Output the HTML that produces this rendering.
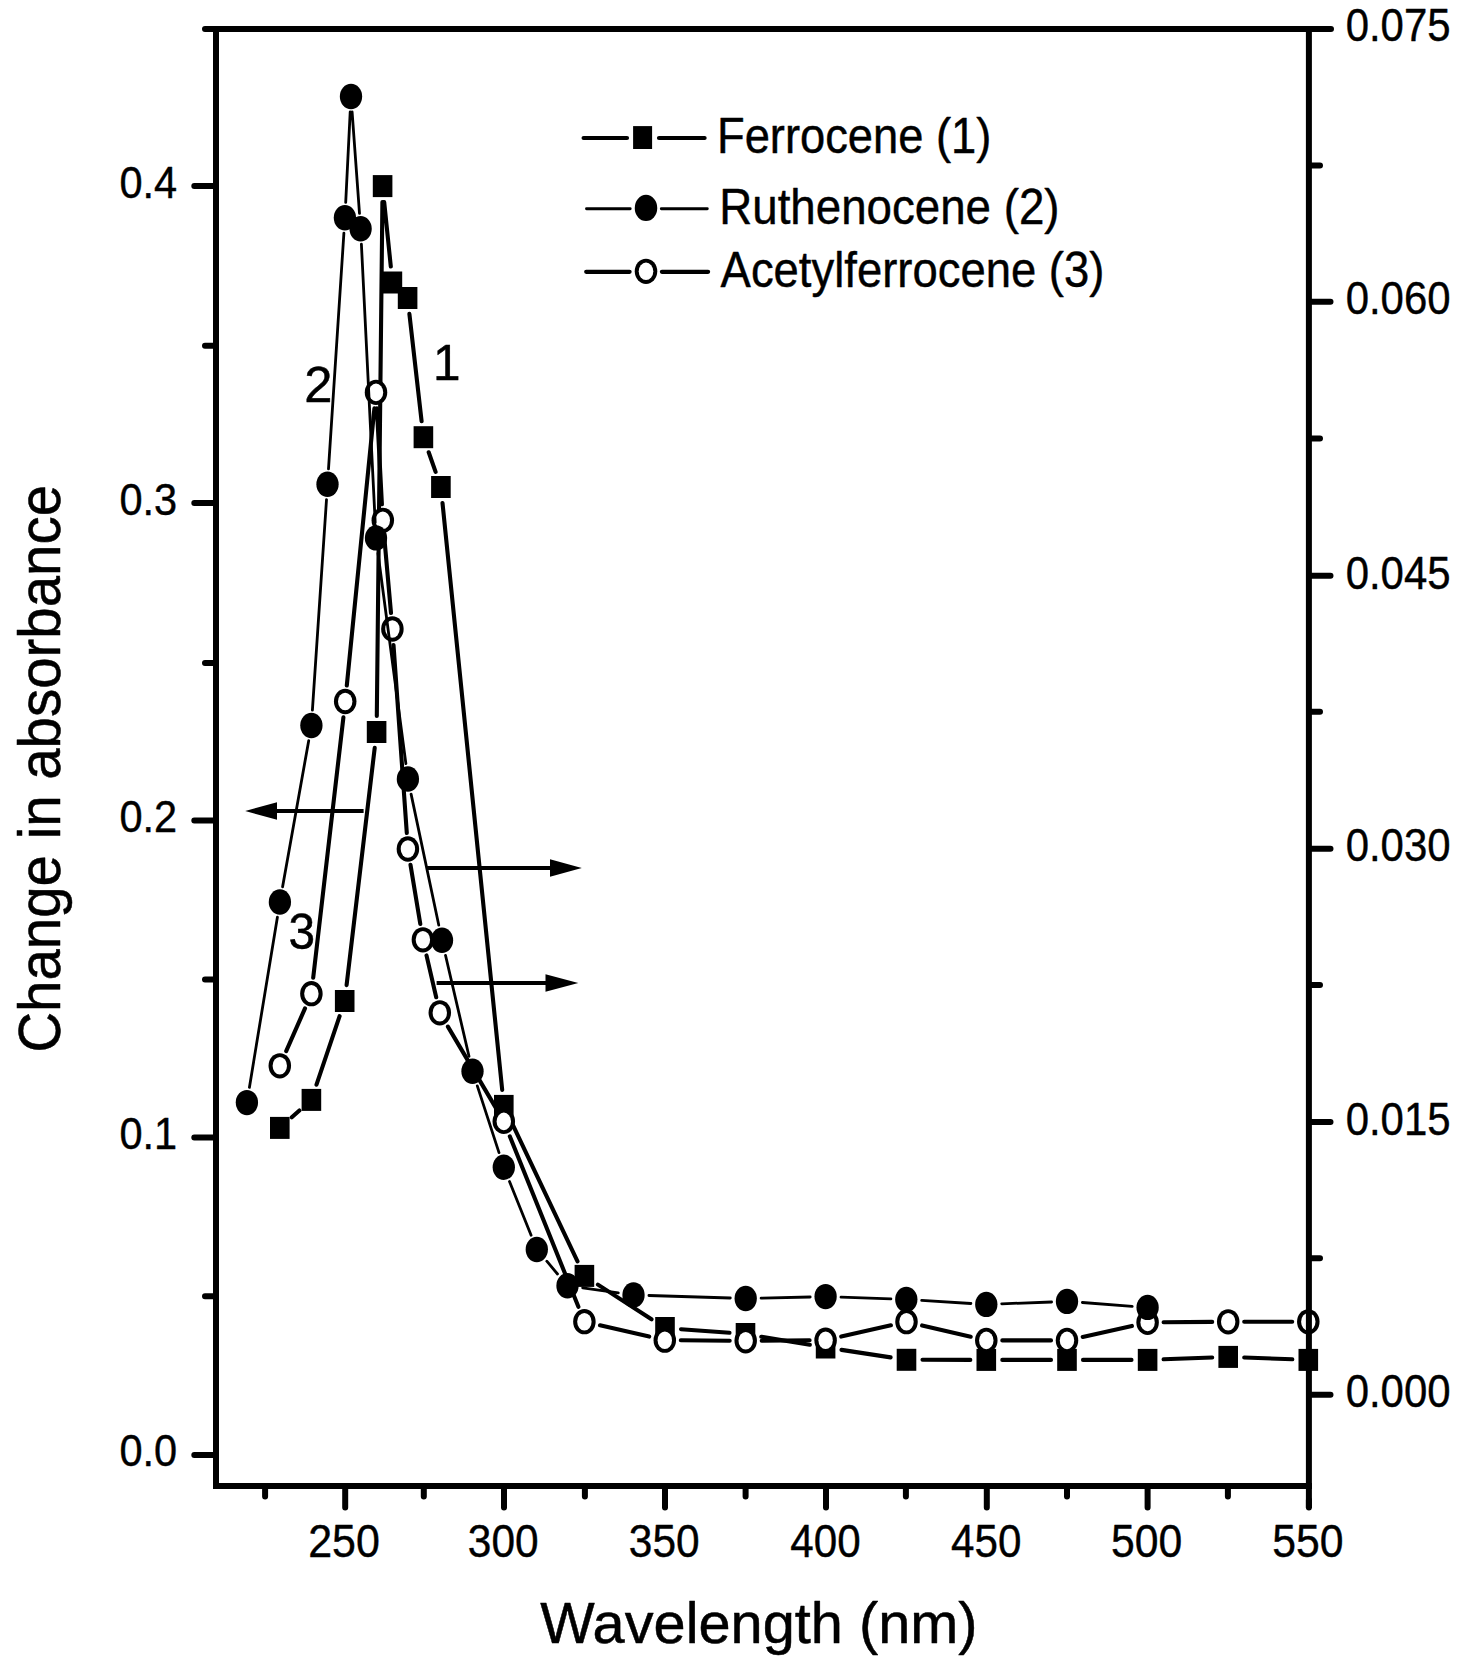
<!DOCTYPE html>
<html lang="en"><head><meta charset="utf-8"><title>Change in absorbance vs wavelength</title><style>html,body{margin:0;padding:0;background:#fff}svg{display:block}</style></head><body>
<svg width="1468" height="1672" viewBox="0 0 1468 1672">
<rect width="1468" height="1672" fill="#fff"/>
<g fill="none" stroke="#000" stroke-linecap="round">
<path stroke-width="4.1" d="M291.8 1117.3L299.4 1110.5M316.5 1084.7L339.6 1016.2M346.6 985.1L374.7 747.9M376.8 716.0L382.4 202.1M384.2 202.1L390.8 266.5M409.4 313.9L421.6 421.3M428.7 452.3L435.6 471.9M442.5 503.0L502.2 1089.9M510.7 1120.4L577.5 1261.4M597.9 1284.6L651.5 1319.3M681.0 1329.2L729.5 1332.8M761.3 1336.7L809.8 1344.8M841.5 1349.9L890.6 1357.4M922.5 1359.8L970.3 1359.9M1002.3 1359.9L1051.0 1359.9M1083.0 1359.9L1131.5 1359.9M1163.6 1359.3L1212.2 1357.5M1244.2 1357.5L1292.3 1359.3"/>
</g>
<g fill="#000">
<rect x="270.0" y="1116.9" width="19.6" height="22"/>
<rect x="301.6" y="1088.9" width="19.6" height="22"/>
<rect x="334.9" y="990.0" width="19.6" height="22"/>
<rect x="366.8" y="721.0" width="19.6" height="22"/>
<rect x="372.8" y="175.1" width="19.6" height="22"/>
<rect x="382.6" y="271.5" width="19.6" height="22"/>
<rect x="397.8" y="287.0" width="19.6" height="22"/>
<rect x="413.6" y="426.2" width="19.6" height="22"/>
<rect x="431.1" y="476.0" width="19.6" height="22"/>
<rect x="494.0" y="1094.9" width="19.6" height="22"/>
<rect x="574.6" y="1264.9" width="19.6" height="22"/>
<rect x="655.2" y="1317.0" width="19.6" height="22"/>
<rect x="735.7" y="1323.0" width="19.6" height="22"/>
<rect x="815.8" y="1336.5" width="19.6" height="22"/>
<rect x="896.7" y="1348.8" width="19.6" height="22"/>
<rect x="976.5" y="1348.9" width="19.6" height="22"/>
<rect x="1057.2" y="1348.9" width="19.6" height="22"/>
<rect x="1137.8" y="1348.9" width="19.6" height="22"/>
<rect x="1218.4" y="1345.9" width="19.6" height="22"/>
<rect x="1298.5" y="1348.9" width="19.6" height="22"/>
</g>
<path fill="none" stroke="#000" stroke-linecap="round" stroke-width="4.1" d="M286.2 1051.1L305.0 1008.4M313.2 977.8L343.4 717.4M346.8 685.5L374.4 408.4M376.9 408.4L381.9 504.3M384.2 536.3L391.0 613.0M393.5 645.0L406.8 833.0M410.5 864.8L420.3 924.0M426.5 955.4L436.2 997.2M447.9 1026.6L495.7 1107.6M509.8 1136.3L578.4 1306.8M600.0 1325.3L649.2 1336.6M680.8 1340.3L729.7 1340.7M761.7 1340.7L809.6 1340.3M841.2 1336.6L890.9 1325.3M922.1 1325.4L970.7 1336.7M1002.3 1340.4L1051.0 1340.4M1082.7 1336.9L1131.9 1325.9M1163.6 1322.3L1212.2 1321.9M1244.2 1321.8L1292.2 1321.8"/>
<g>
<ellipse cx="279.8" cy="1065.8" rx="11.25" ry="12.65" fill="#000"/><ellipse cx="279.8" cy="1065.8" rx="7.2" ry="8.8" fill="#fff"/>
<ellipse cx="311.4" cy="993.7" rx="11.25" ry="12.65" fill="#000"/><ellipse cx="311.4" cy="993.7" rx="7.2" ry="8.8" fill="#fff"/>
<ellipse cx="345.2" cy="701.5" rx="11.25" ry="12.65" fill="#000"/><ellipse cx="345.2" cy="701.5" rx="7.2" ry="8.8" fill="#fff"/>
<ellipse cx="376.0" cy="392.4" rx="11.25" ry="12.65" fill="#000"/><ellipse cx="376.0" cy="392.4" rx="7.2" ry="8.8" fill="#fff"/>
<ellipse cx="382.8" cy="520.3" rx="11.25" ry="12.65" fill="#000"/><ellipse cx="382.8" cy="520.3" rx="7.2" ry="8.8" fill="#fff"/>
<ellipse cx="392.4" cy="629.0" rx="11.25" ry="12.65" fill="#000"/><ellipse cx="392.4" cy="629.0" rx="7.2" ry="8.8" fill="#fff"/>
<ellipse cx="407.9" cy="849.0" rx="11.25" ry="12.65" fill="#000"/><ellipse cx="407.9" cy="849.0" rx="7.2" ry="8.8" fill="#fff"/>
<ellipse cx="422.9" cy="939.8" rx="11.25" ry="12.65" fill="#000"/><ellipse cx="422.9" cy="939.8" rx="7.2" ry="8.8" fill="#fff"/>
<ellipse cx="439.8" cy="1012.8" rx="11.25" ry="12.65" fill="#000"/><ellipse cx="439.8" cy="1012.8" rx="7.2" ry="8.8" fill="#fff"/>
<ellipse cx="503.8" cy="1121.4" rx="11.25" ry="12.65" fill="#000"/><ellipse cx="503.8" cy="1121.4" rx="7.2" ry="8.8" fill="#fff"/>
<ellipse cx="584.4" cy="1321.7" rx="11.25" ry="12.65" fill="#000"/><ellipse cx="584.4" cy="1321.7" rx="7.2" ry="8.8" fill="#fff"/>
<ellipse cx="664.8" cy="1340.2" rx="11.25" ry="12.65" fill="#000"/><ellipse cx="664.8" cy="1340.2" rx="7.2" ry="8.8" fill="#fff"/>
<ellipse cx="745.7" cy="1340.8" rx="11.25" ry="12.65" fill="#000"/><ellipse cx="745.7" cy="1340.8" rx="7.2" ry="8.8" fill="#fff"/>
<ellipse cx="825.6" cy="1340.2" rx="11.25" ry="12.65" fill="#000"/><ellipse cx="825.6" cy="1340.2" rx="7.2" ry="8.8" fill="#fff"/>
<ellipse cx="906.5" cy="1321.7" rx="11.25" ry="12.65" fill="#000"/><ellipse cx="906.5" cy="1321.7" rx="7.2" ry="8.8" fill="#fff"/>
<ellipse cx="986.3" cy="1340.4" rx="11.25" ry="12.65" fill="#000"/><ellipse cx="986.3" cy="1340.4" rx="7.2" ry="8.8" fill="#fff"/>
<ellipse cx="1067.0" cy="1340.4" rx="11.25" ry="12.65" fill="#000"/><ellipse cx="1067.0" cy="1340.4" rx="7.2" ry="8.8" fill="#fff"/>
<ellipse cx="1147.6" cy="1322.4" rx="11.25" ry="12.65" fill="#000"/><ellipse cx="1147.6" cy="1322.4" rx="7.2" ry="8.8" fill="#fff"/>
<ellipse cx="1228.2" cy="1321.8" rx="11.25" ry="12.65" fill="#000"/><ellipse cx="1228.2" cy="1321.8" rx="7.2" ry="8.8" fill="#fff"/>
<ellipse cx="1308.3" cy="1321.8" rx="11.25" ry="12.65" fill="#000"/><ellipse cx="1308.3" cy="1321.8" rx="7.2" ry="8.8" fill="#fff"/>
</g>
<path fill="none" stroke="#000" stroke-linecap="round" stroke-width="2.8" d="M249.4 1087.4L277.4 917.2M282.6 886.8L308.7 740.7M312.4 710.1L326.5 499.7M328.5 468.9L343.9 233.2M345.7 202.4L350.2 111.9M352.1 111.9L359.5 213.4M361.4 244.2L375.2 522.5M378.0 553.2L405.9 763.7M411.1 794.1L438.8 925.2M445.5 955.3L469.0 1056.3M477.3 1085.9L499.0 1152.6M509.5 1181.5L531.1 1235.2M546.8 1261.2L557.5 1274.0M582.7 1287.8L618.3 1292.9M648.9 1295.5L730.3 1298.0M761.1 1298.1L810.2 1297.0M841.0 1297.2L890.9 1298.9M921.7 1300.4L970.9 1303.5M1001.7 1303.8L1051.6 1302.0M1082.4 1302.5L1132.2 1306.3"/>
<g fill="#000">
<ellipse cx="246.9" cy="1102.6" rx="11.15" ry="12.7"/>
<ellipse cx="279.9" cy="902.0" rx="11.15" ry="12.7"/>
<ellipse cx="311.4" cy="725.5" rx="11.15" ry="12.7"/>
<ellipse cx="327.5" cy="484.3" rx="11.15" ry="12.7"/>
<ellipse cx="344.9" cy="217.8" rx="11.15" ry="12.7"/>
<ellipse cx="351.0" cy="96.5" rx="11.15" ry="12.7"/>
<ellipse cx="360.6" cy="228.8" rx="11.15" ry="12.7"/>
<ellipse cx="376.0" cy="537.9" rx="11.15" ry="12.7"/>
<ellipse cx="407.9" cy="779.0" rx="11.15" ry="12.7"/>
<ellipse cx="442.0" cy="940.3" rx="11.15" ry="12.7"/>
<ellipse cx="472.5" cy="1071.3" rx="11.15" ry="12.7"/>
<ellipse cx="503.8" cy="1167.2" rx="11.15" ry="12.7"/>
<ellipse cx="536.8" cy="1249.5" rx="11.15" ry="12.7"/>
<ellipse cx="567.5" cy="1285.7" rx="11.15" ry="12.7"/>
<ellipse cx="633.5" cy="1295.0" rx="11.15" ry="12.7"/>
<ellipse cx="745.7" cy="1298.5" rx="11.15" ry="12.7"/>
<ellipse cx="825.6" cy="1296.6" rx="11.15" ry="12.7"/>
<ellipse cx="906.3" cy="1299.5" rx="11.15" ry="12.7"/>
<ellipse cx="986.3" cy="1304.4" rx="11.15" ry="12.7"/>
<ellipse cx="1067.0" cy="1301.4" rx="11.15" ry="12.7"/>
<ellipse cx="1147.6" cy="1307.4" rx="11.15" ry="12.7"/>
</g>
<g stroke="#000" stroke-width="4" fill="#000">
<path d="M363.6 811H272" fill="none"/><path stroke="none" d="M245.2 811L277 802.2V819.8Z"/>
<path d="M427.1 868H555" fill="none"/><path stroke="none" d="M581.8 868L550 859.2V876.8Z"/>
<path d="M436.6 983H551" fill="none"/><path stroke="none" d="M578.3 983L545.5 974.2V991.8Z"/>
</g>
<g stroke="#000" stroke-linecap="round" fill="none">
<path stroke-width="4.2" d="M583.6 138H627M659 138H704.6"/>
<path stroke-width="2.9" d="M586.5 208.7H630.2M661.3 208.7H707.3"/>
<path stroke-width="4.2" d="M586.2 271.8H629.6M661.9 271.8H708.1"/>
</g>
<rect x="633.1" y="126.1" width="19" height="22.9" fill="#000"/>
<ellipse cx="646" cy="207.9" rx="11.25" ry="13.1" fill="#000"/>
<ellipse cx="646" cy="271.3" rx="11.25" ry="12.65" fill="#000"/><ellipse cx="646" cy="271.3" rx="7.3" ry="8.7" fill="#fff"/>
<g stroke="#000" stroke-width="6" stroke-linecap="butt" fill="none">
<path d="M205 28.9H1330"/>
<path d="M216 25.9V1489.1"/>
<path d="M213 1486.1H1311.9"/>
<path d="M1308.9 25.9V1508"/>
</g>
<g stroke="#000" stroke-width="6" stroke-linecap="round" fill="none">
<path d="M208 28.9H205M1328 28.9H1331M214 186.0H194.3M214 503.0H194.3M214 820.4H194.3M214 1137.6H194.3M214 1455.0H194.3M214 345.8H205M214 662.9H205M214 979.6H205M214 1296.3H205M1310 301.8H1330.5M1310 575.8H1330.5M1310 848.8H1330.5M1310 1121.9H1330.5M1310 1394.8H1330.5M1310 165.4H1320M1310 438.6H1320M1310 711.8H1320M1310 985.0H1320M1310 1258.2H1320M345.2 1487V1507.5M504.0 1487V1507.5M665.0 1487V1507.5M826.0 1487V1507.5M986.8 1487V1507.5M1147.6 1487V1507.5M1308.9 1500V1507.5M265.1 1487V1496.5M423.8 1487V1496.5M584.9 1487V1496.5M745.6 1487V1496.5M905.9 1487V1496.5M1067.0 1487V1496.5M1227.9 1487V1496.5"/>
</g>
<g font-family='"Liberation Sans", Arial, sans-serif' font-size="100" fill="#000" stroke="#000" stroke-width="0.9" stroke-linejoin="round">
<text transform="matrix(0.4153 0 0 0.4529 119.45 198.40)">0.4</text>
<text transform="matrix(0.4153 0 0 0.4529 119.45 515.40)">0.3</text>
<text transform="matrix(0.4153 0 0 0.4529 119.45 832.40)">0.2</text>
<text transform="matrix(0.4153 0 0 0.4529 119.45 1149.40)">0.1</text>
<text transform="matrix(0.4153 0 0 0.4529 119.45 1466.40)">0.0</text>
<text transform="matrix(0.4195 0 0 0.4543 1345.64 40.50)">0.075</text>
<text transform="matrix(0.4195 0 0 0.4543 1345.64 313.60)">0.060</text>
<text transform="matrix(0.4195 0 0 0.4543 1345.64 588.60)">0.045</text>
<text transform="matrix(0.4195 0 0 0.4543 1345.64 860.70)">0.030</text>
<text transform="matrix(0.4195 0 0 0.4543 1345.64 1134.50)">0.015</text>
<text transform="matrix(0.4195 0 0 0.4543 1345.64 1406.60)">0.000</text>
<text transform="matrix(0.4298 0 0 0.4571 308.15 1556.80)">250</text>
<text transform="matrix(0.4244 0 0 0.4571 467.83 1556.80)">300</text>
<text transform="matrix(0.4244 0 0 0.4571 628.83 1556.80)">350</text>
<text transform="matrix(0.4218 0 0 0.4571 790.26 1556.80)">400</text>
<text transform="matrix(0.4218 0 0 0.4571 951.06 1556.80)">450</text>
<text transform="matrix(0.4271 0 0 0.4571 1110.99 1556.80)">500</text>
<text transform="matrix(0.4271 0 0 0.4571 1272.29 1556.80)">550</text>
<text transform="matrix(0.4530 0 0 0.4942 716.98 152.50)">Ferrocene (1)</text>
<text transform="matrix(0.4568 0 0 0.4914 719.25 223.60)">Ruthenocene (2)</text>
<text transform="matrix(0.4543 0 0 0.4971 720.60 286.90)">Acetylferrocene (3)</text>
<text transform="matrix(0.4950 0 0 0.5058 433.10 379.90)">1</text>
<text transform="matrix(0.5065 0 0 0.4971 304.37 401.60)">2</text>
<text transform="matrix(0.4776 0 0 0.4929 288.47 949.30)">3</text>
<text transform="matrix(0.5771 0 0 0.5783 540.30 1642.90)">Wavelength (nm)</text>
<text transform="matrix(0 -0.5642 0.5849 0 60.30 1052.62)">Change in absorbance</text>
</g>
</svg>
</body></html>
